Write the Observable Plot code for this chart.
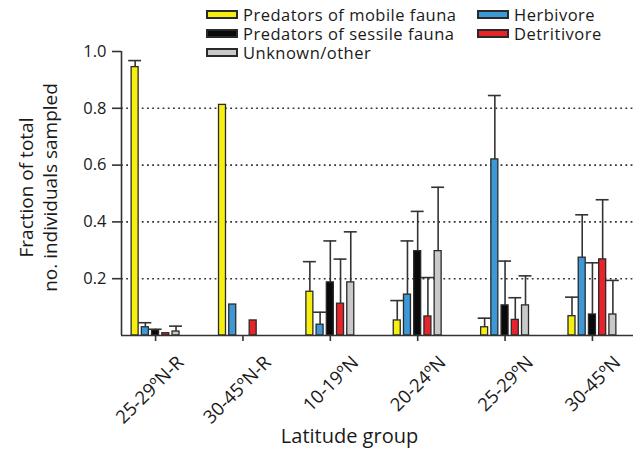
<!DOCTYPE html>
<html>
<head>
<meta charset="utf-8">
<script src="https://cdn.jsdelivr.net/npm/d3@7"></script>
<script src="https://cdn.jsdelivr.net/npm/@observablehq/plot@0.6"></script>
<style>
  html, body { margin: 0; padding: 0; background: #fff; }
  #wrap { position: relative; width: 638px; height: 452px; font-family: "Open Sans", sans-serif; color: #1a1a1a; }
  #legend { position: absolute; left: 0; top: 0; width: 638px; height: 64px; }
  .li { position: absolute; display: flex; align-items: center; height: 19px; font-size: 16.5px; letter-spacing: 0.5px; line-height: 19px; white-space: nowrap; }
  .li .tx { display: block; height: 19px; line-height: 19px; overflow: visible; }
  .sw { display: block; width: 32px; height: 9px; box-sizing: border-box; border: 2px solid #2a2a2a; margin-right: 5px; }
  svg { display: block; }
</style>
</head>
<body>
<div id="wrap">
  <div id="chart"></div>
  <div id="legend"></div>
</div>
<script>
// ---- data ----
const groups = ["25-29ºN-R", "30-45ºN-R", "10-19ºN", "20-24ºN", "25-29ºN", "30-45ºN"];
const series = ["Predators of mobile fauna", "Herbivore", "Predators of sessile fauna", "Detritivore", "Unknown/other"];
const colors = ["#f7ef0e", "#3d98d6", "#0a0a0a", "#e8242b", "#c9c9c9"];

const mobile       = [0.945, 0.812, 0.154, 0.053, 0.029, 0.068];
const mobileErr    = [0.968, null,  0.260, 0.123, 0.061, 0.135];
const herbivore    = [0.029, 0.109, 0.038, 0.144, 0.620, 0.274];
const herbivoreErr = [0.045, null,  0.082, 0.333, 0.845, 0.425];
const sessile      = [0.018, 0,     0.187, 0.297, 0.106, 0.074];
const sessileErr   = [0.022, null,  0.333, 0.437, 0.262, 0.256];
const detritivore  = [0.008, 0.053, 0.112, 0.067, 0.055, 0.268];
const detritErr    = [null,  null,  0.269, 0.204, 0.133, 0.478];
const unknown      = [0.014, 0,     0.187, 0.297, 0.106, 0.074];
const unknownErr   = [0.033, null,  0.365, 0.522, 0.210, 0.194];

const yTicks = [0.2, 0.4, 0.6, 0.8, 1.0];
const gridTicks = [0.2, 0.4, 0.6, 0.8];

// ---- table ----
const values = [mobile, herbivore, sessile, detritivore, unknown];
const errs = [mobileErr, herbivoreErr, sessileErr, detritErr, unknownErr];
const rows = [];
groups.forEach((g, gi) => series.forEach((s, sj) => {
  rows.push({group: g, gi, series: s, sj, value: values[sj][gi], err: errs[sj][gi]});
}));
const bars = rows.filter(d => d.value > 0);
const errRows = rows.filter(d => d.err != null);

const step = 0.117, half = 0.04, cap = 0.074;
const cx = d => d.gi + (d.sj - 2) * step;
const xDomain = [-0.39, 5.47];

const plot = Plot.plot({
  width: 638,
  height: 452,
  marginLeft: 121,
  marginRight: 5,
  marginTop: 51,
  marginBottom: 117,
  style: {fontFamily: "Open Sans, sans-serif", color: "#1a1a1a", background: "white"},
  x: {type: "linear", domain: xDomain, axis: null},
  y: {domain: [0, 1], axis: null},
  marks: [
    Plot.gridY(gridTicks, {stroke: "#333", strokeOpacity: 1, strokeWidth: 1.6, strokeDasharray: "1.8,3.4"}),
    Plot.rectY(bars, {x1: d => cx(d) - half, x2: d => cx(d) + half, y1: 0, y2: "value",
      fill: d => colors[d.sj], stroke: "#2a2a2a", strokeWidth: 1.3}),
    Plot.ruleX(errRows, {x: cx, y1: "value", y2: "err", stroke: "#333", strokeWidth: 1.6}),
    Plot.ruleY(errRows, {y: "err", x1: d => cx(d) - cap, x2: d => cx(d) + cap, stroke: "#333", strokeWidth: 1.6}),
    Plot.ruleY([0], {stroke: "#333", strokeWidth: 1.6}),
    Plot.ruleX([xDomain[0]], {y1: 0, y2: 1, stroke: "#333", strokeWidth: 1.6}),
    Plot.axisY({ticks: yTicks, tickFormat: d3.format(".1f"), tickSize: 9, tickPadding: 6, fontSize: 16.5, stroke: "#333", strokeWidth: 1.6}),
    Plot.axisX({ticks: d3.range(groups.length), tickFormat: () => "", tickSize: 6, stroke: "#333", strokeWidth: 1.6}),
    Plot.text(groups, {x: (d, i) => i, y: 0, text: d => d, rotate: -45, textAnchor: "end", dx: 25, dy: 24, fontSize: 18.5, fill: "#1a1a1a"}),
    Plot.text(["Fraction of total\nno. individuals sampled"], {frameAnchor: "left", rotate: -90, textAnchor: "middle", dx: -84, dy: -6, fontSize: 19, lineHeight: 1.28, fill: "#1a1a1a"}),
    Plot.text(["Latitude group"], {frameAnchor: "bottom", dx: -28, dy: 107, fontSize: 20, fill: "#1a1a1a"})
  ]
});
document.getElementById("chart").appendChild(plot);

// ---- legend ----
const legendPos = [
  {left: 206, top: 5},   // mobile
  {left: 477, top: 5},   // herbivore
  {left: 206, top: 24},  // sessile
  {left: 477, top: 24},  // detritivore
  {left: 206, top: 43}   // unknown
];
const legend = document.getElementById("legend");
series.forEach((s, j) => {
  const el = document.createElement("div");
  el.className = "li";
  el.style.left = legendPos[j].left + "px";
  el.style.top = legendPos[j].top + "px";
  const sw = document.createElement("span");
  sw.className = "sw";
  sw.style.background = colors[j];
  const t = document.createElement("span");
  t.className = "tx";
  t.textContent = s;
  el.appendChild(sw);
  el.appendChild(t);
  legend.appendChild(el);
});
</script>
</body>
</html>
